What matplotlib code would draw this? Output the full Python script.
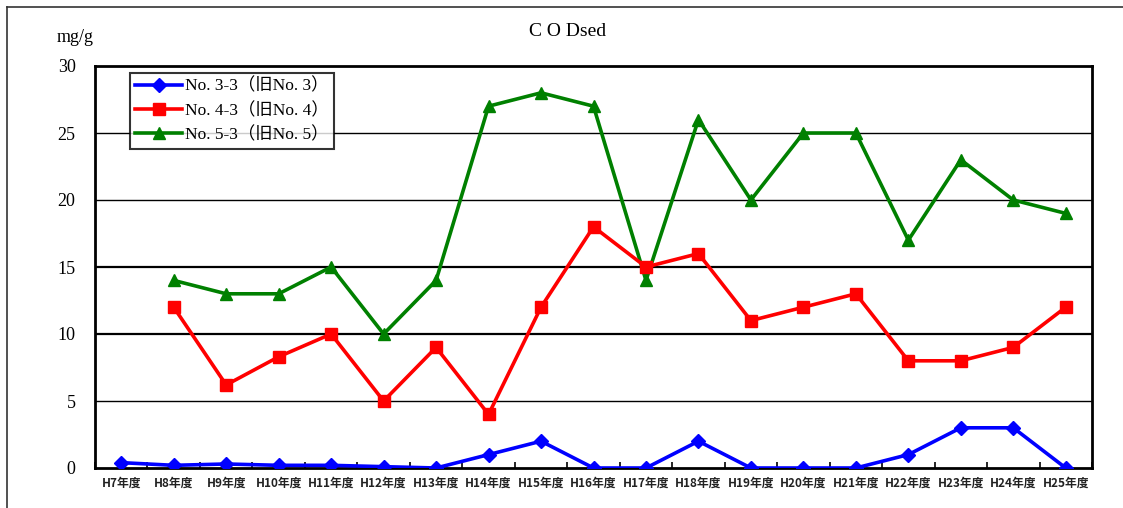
import numpy as np
import matplotlib
matplotlib.use('Agg')
import matplotlib.pyplot as plt
from matplotlib.lines import Line2D

plt.rcParams['font.family'] = ['Liberation Serif', 'Noto Sans CJK JP', 'DejaVu Sans']

years = ['H7年度', 'H8年度', 'H9年度', 'H10年度', 'H11年度', 'H12年度', 'H13年度',
         'H14年度', 'H15年度', 'H16年度', 'H17年度', 'H18年度', 'H19年度', 'H20年度',
         'H21年度', 'H22年度', 'H23年度', 'H24年度', 'H25年度']
no3 = [0.4, 0.2, 0.3, 0.2, 0.2, 0.1, 0.0, 1.0, 2.0, 0.0, 0.0, 2.0, 0.0, 0.0,
       0.0, 1.0, 3.0, 3.0, 0.0]
no4 = [np.nan, 12, 6.2, 8.3, 10, 5, 9, 4, 12, 18, 15, 16, 11, 12, 13, 8, 8, 9, 12]
no5 = [np.nan, 14, 13, 13, 15, 10, 14, 27, 28, 27, 14, 26, 20, 25, 25, 17, 23, 20, 19]
labels = ['No. 3-3（旧No. 3）', 'No. 4-3（旧No. 4）', 'No. 5-3（旧No. 5）']

fig = plt.figure(figsize=(11.23, 5.08), dpi=100)
W, H = 1123, 508
ax = fig.add_axes([95 / W, 1 - 468 / H, (1092 - 95) / W, (468 - 66) / H])

x = np.arange(len(years))
ax.plot(x, no3, color='#0000ff', lw=2.6, marker='D', ms=7.5, label=labels[0], zorder=5)
ax.plot(x, no4, color='#ff0000', lw=2.6, marker='s', ms=8.5, label=labels[1], zorder=4)
ax.plot(x, no5, color='#008000', lw=2.6, marker='^', ms=9, label=labels[2], zorder=3)

ax.set_xlim(-0.5, len(years) - 0.5)
ax.set_ylim(0, 30)
ax.set_yticks([0, 5, 10, 15, 20, 25, 30])
for v in [5, 10, 15, 20, 25]:
    ax.axhline(v, color='black', lw=1.6 if v in (10, 15) else 1.0, zorder=1)

ax.set_xticks(x)
ax.set_xticklabels(years, family=['Noto Sans CJK JP', 'DejaVu Sans'], fontsize=8.5,
                   fontweight='bold', color='#222222')
ax.set_xticks(np.arange(-0.5, len(years)), minor=True)
ax.tick_params(axis='x', which='major', length=0, pad=6)
ax.tick_params(axis='x', which='minor', direction='in', length=4, width=1.2)
ax.tick_params(axis='y', length=0, pad=14, labelsize=13)
for lab in ax.get_yticklabels():
    lab.set_family(['Liberation Serif'])
for s in ax.spines.values():
    s.set_linewidth(2)

leg = ax.legend(loc='upper left', bbox_to_anchor=(35 / 997, 1 - 7 / 402), borderaxespad=0,
                frameon=True, fancybox=False, edgecolor='black', handlelength=2.7,
                borderpad=0.3, labelspacing=0.45, handletextpad=0.15,
                prop={'family': ['Liberation Serif', 'Noto Sans CJK JP'], 'size': 12.5})
leg.get_frame().set_linewidth(1.5)
leg.set_zorder(10)

fig.text(568 / W, 1 - 32 / H, 'C O Dsed', ha='center', va='center', fontsize=14,
         family=['Liberation Serif'])
fig.text(75 / W, 1 - 38 / H, 'mg/g', ha='center', va='center', fontsize=13,
         family=['Liberation Serif'])

# outer frame
fig.add_artist(Line2D([7 / W, 1.0], [1 - 7 / H, 1 - 7 / H], color='#333333', lw=1.2,
                      transform=fig.transFigure))
fig.add_artist(Line2D([7 / W, 7 / W], [0, 1 - 7 / H], color='#333333', lw=1.2,
                      transform=fig.transFigure))

fig.savefig('out.png', dpi=100)
